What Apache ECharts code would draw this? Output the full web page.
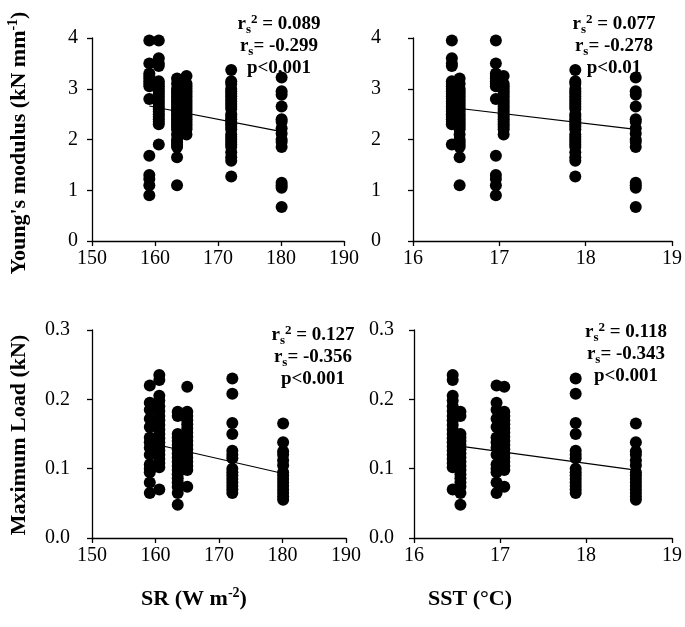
<!DOCTYPE html>
<html>
<head>
<meta charset="utf-8">
<script src="https://cdn.jsdelivr.net/npm/echarts@6/dist/echarts.min.js"></script>
<style>
html,body{margin:0;padding:0;background:#fff;}
#chart{width:685px;height:627px;}
</style>
</head>
<body>
<div id="chart"></div>
<script>
// Site-level environmental values (same sample sites in SR and SST panels)
const srSites  = [159.1, 160.6, 163.5, 165.0, 172.1, 180.1];
const sstSites = [16.96, 16.45, 16.54, 17.05, 17.88, 18.58];

// Young's modulus (kN mm-1) per site
const ymSiteA = [3.95, 3.5, 3.3, 3.25, 3.2, 3.15, 3.1, 3.05, 2.8, 1.68, 1.3, 1.22, 1.1, 0.9];
const ymSiteB = [3.95, 3.6, 3.5, 3.45, 3.15, 3.1, 3.05, 3.0, 2.95, 2.9, 2.85, 2.8, 2.75, 2.7, 2.65, 2.6, 2.55, 2.5, 2.45, 2.4, 2.35, 2.3, 1.9];
const ymSiteC = [3.2, 3.1, 3.0, 2.95, 2.9, 2.85, 2.8, 2.75, 2.7, 2.65, 2.6, 2.55, 2.5, 2.45, 2.4, 2.35, 2.3, 2.25, 2.2, 2.1, 2.0, 1.95, 1.9, 1.85, 1.65, 1.1];
const ymSiteD = [3.25, 3.1, 3.05, 3.0, 2.95, 2.9, 2.85, 2.8, 2.75, 2.7, 2.65, 2.6, 2.55, 2.5, 2.45, 2.4, 2.35, 2.3, 2.25, 2.2, 2.1];
const ymSiteE = [3.37, 3.15, 3.1, 3.0, 2.95, 2.9, 2.85, 2.8, 2.75, 2.7, 2.65, 2.6, 2.5, 2.45, 2.4, 2.35, 2.3, 2.25, 2.2, 2.1, 2.05, 2.0, 1.95, 1.9, 1.85, 1.75, 1.65, 1.58, 1.27];
const ymSiteF = [3.22, 2.95, 2.88, 2.65, 2.4, 2.35, 2.22, 2.12, 2.0, 1.95, 1.85, 1.15, 1.1, 1.05, 0.67];

// Maximum load (kN) per site
const mlSiteA = [0.22, 0.195, 0.185, 0.172, 0.16, 0.145, 0.138, 0.13, 0.12, 0.106, 0.1, 0.095, 0.08, 0.065];
const mlSiteB = [0.235, 0.228, 0.205, 0.198, 0.19, 0.183, 0.176, 0.17, 0.163, 0.156, 0.15, 0.144, 0.138, 0.132, 0.126, 0.12, 0.114, 0.108, 0.102, 0.07];
const mlSiteC = [0.182, 0.176, 0.15, 0.145, 0.14, 0.134, 0.128, 0.122, 0.116, 0.11, 0.104, 0.098, 0.092, 0.086, 0.08, 0.074, 0.065, 0.048];
const mlSiteD = [0.218, 0.182, 0.176, 0.17, 0.164, 0.158, 0.152, 0.146, 0.14, 0.134, 0.128, 0.122, 0.116, 0.11, 0.104, 0.098, 0.074];
const mlSiteE = [0.23, 0.208, 0.166, 0.15, 0.126, 0.12, 0.115, 0.1, 0.095, 0.09, 0.085, 0.08, 0.075, 0.07, 0.065];
const mlSiteF = [0.165, 0.138, 0.125, 0.12, 0.112, 0.105, 0.095, 0.09, 0.085, 0.08, 0.075, 0.07, 0.065, 0.06, 0.055];

// Fitted regression line end points [x, y]
const fitYmSr  = [[159.1, 2.66], [180.1, 2.155]];
const fitYmSst = [[16.45, 2.63], [18.58, 2.20]];
const fitMlSr  = [[159.1, 0.137], [180.1, 0.093]];
const fitMlSst = [[16.45, 0.134], [18.58, 0.098]];

// Statistics annotations
const statYmSr  = ['0.089', '-0.299', 'p<0.001'];
const statYmSst = ['0.077', '-0.278', 'p<0.01'];
const statMlSr  = ['0.127', '-0.356', 'p<0.001'];
const statMlSst = ['0.118', '-0.343', 'p<0.001'];

// Tick settings
const ymTicks = {min: 0, max: 4, interval: 1};
const mlTicks = {min: 0, max: 0.3, interval: 0.1};
const srTicks = {min: 150, max: 190, interval: 10};
const sstTicks = {min: 16, max: 19, interval: 1};

const ymSites = [ymSiteA, ymSiteB, ymSiteC, ymSiteD, ymSiteE, ymSiteF];
const mlSites = [mlSiteA, mlSiteB, mlSiteC, mlSiteD, mlSiteE, mlSiteF];

function pairs(xs, groups) {
  const out = [];
  groups.forEach((g, i) => g.forEach(v => out.push([xs[i], v])));
  return out;
}

const FONT = 'Liberation Serif, Times New Roman, serif';
const black = '#000';

function xAxis(grid, t, margin) {
  return {
    type: 'value', gridIndex: grid, min: t.min, max: t.max, interval: t.interval,
    splitLine: {show: false},
    axisLine: {show: true, onZero: false, lineStyle: {color: black, width: 1.3}},
    axisTick: {show: true, inside: false, length: 5, lineStyle: {color: black, width: 1.3}},
    axisLabel: {color: black, fontFamily: FONT, fontSize: 20, margin: margin}
  };
}
function yAxis(grid, t, margin, dec) {
  return {
    type: 'value', gridIndex: grid, min: t.min, max: t.max, interval: t.interval,
    splitLine: {show: false},
    axisLine: {show: true, onZero: false, lineStyle: {color: black, width: 1.3}},
    axisTick: {show: true, inside: false, length: 5, lineStyle: {color: black, width: 1.3}},
    axisLabel: {color: black, fontFamily: FONT, fontSize: 20, margin: margin,
      formatter: v => v.toFixed(dec)}
  };
}
function scatter(i, data) {
  return {type: 'scatter', xAxisIndex: i, yAxisIndex: i, data: data, symbol: 'circle',
    symbolSize: 12, itemStyle: {color: black, opacity: 1}, silent: true, z: 2};
}
function fit(i, data) {
  return {type: 'line', xAxisIndex: i, yAxisIndex: i, data: data, symbol: 'none',
    lineStyle: {color: black, width: 1.2}, silent: true, z: 3};
}

const rich = {
  b: {fontFamily: FONT, fontSize: 19, fontWeight: 'bold', color: black},
  sub: {fontFamily: FONT, fontSize: 13, fontWeight: 'bold', color: black, padding: [11, 0, 0, 0]},
  sup: {fontFamily: FONT, fontSize: 13, fontWeight: 'bold', color: black, padding: [0, 0, 9, 0]}
};

function txt(x, y, text) {
  return {
    type: 'text', x: x, y: y, silent: true,
    style: {text: text, rich: rich, fill: black,
      font: 'bold 19px ' + FONT,
      textAlign: 'center', textVerticalAlign: 'middle', align: 'center', verticalAlign: 'middle'}
  };
}

function stats(cx, y0, s) {
  return [
    txt(cx, y0, '{b|r}{sub|s}{sup|2}{b| = ' + s[0] + '}'),
    txt(cx, y0 + 22, '{b|r}{sub|s}{b|= ' + s[1] + '}'),
    txt(cx, y0 + 44, '{b|' + s[2] + '}')
  ];
}

const titleRich = {
  t: {fontFamily: FONT, fontSize: 22, fontWeight: 'bold', color: black},
  sup: {fontFamily: FONT, fontSize: 14, fontWeight: 'bold', color: black, padding: [0, 0, 11, 0]}
};
function title(x, y, text, rot) {
  return {
    type: 'text', x: x, y: y, rotation: rot || 0, silent: true,
    style: {text: text, rich: titleRich, fill: black, font: 'bold 22px ' + FONT,
      textAlign: 'center', textVerticalAlign: 'middle', align: 'center', verticalAlign: 'middle'}
  };
}

const chart = echarts.init(document.getElementById('chart'), null, {renderer: 'canvas'});
chart.setOption({
  animation: false,
  backgroundColor: '#fff',
  grid: [
    {left: 92, top: 38, width: 252, height: 203},
    {left: 413, top: 38, width: 259, height: 203},
    {left: 92, top: 330, width: 254, height: 208},
    {left: 414, top: 330, width: 260, height: 208}
  ],
  xAxis: [xAxis(0, srTicks, 8), xAxis(1, sstTicks, 8), xAxis(2, srTicks, 8), xAxis(3, sstTicks, 8)],
  yAxis: [yAxis(0, ymTicks, 14, 0), yAxis(1, ymTicks, 32, 0), yAxis(2, mlTicks, 22, 1), yAxis(3, mlTicks, 20, 1)],
  series: [
    scatter(0, pairs(srSites, ymSites)), fit(0, fitYmSr),
    scatter(1, pairs(sstSites, ymSites)), fit(1, fitYmSst),
    scatter(2, pairs(srSites, mlSites)), fit(2, fitMlSr),
    scatter(3, pairs(sstSites, mlSites)), fit(3, fitMlSst)
  ],
  graphic: [].concat(
    stats(279, 24, statYmSr),
    stats(614, 24, statYmSst),
    stats(313, 335, statMlSr),
    stats(626, 332, statMlSst),
    [
      title(19, 143, '{t|Young\'s modulus (kN mm}{sup|-1}{t|)}', Math.PI / 2),
      title(19, 435, '{t|Maximum Load (kN)}', Math.PI / 2),
      title(194, 599, '{t|SR (W m}{sup|-2}{t|)}'),
      title(470, 599, '{t|SST (°C)}')
    ]
  )
});
</script>
</body>
</html>
